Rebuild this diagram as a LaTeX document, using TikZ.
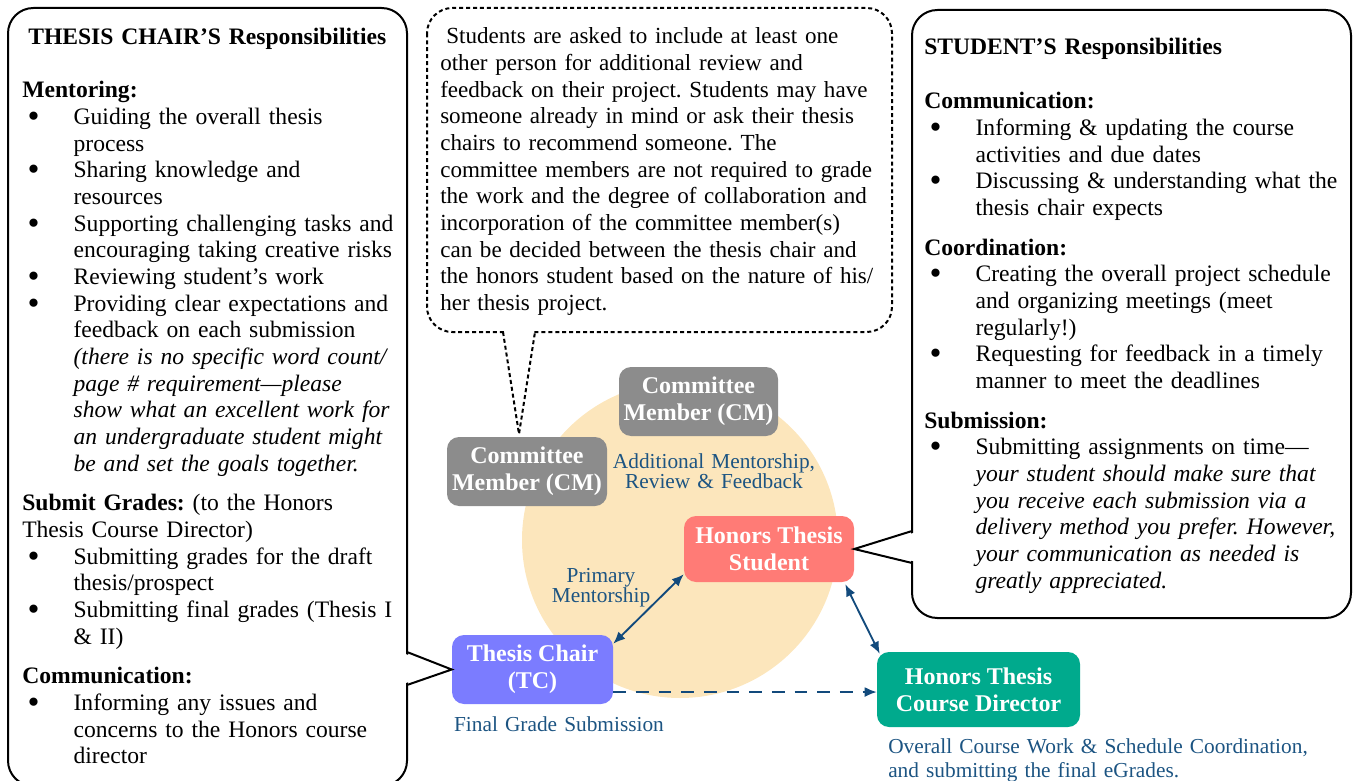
\documentclass[tikz,border=0pt]{standalone}
\usepackage{fontspec}
\setmainfont{Liberation Serif}
\usetikzlibrary{arrows.meta}
\frenchspacing
\definecolor{tccol}{RGB}{123,124,255}
\definecolor{stcol}{RGB}{255,123,118}
\definecolor{cdcol}{RGB}{0,170,141}
\definecolor{cmcol}{RGB}{140,140,140}
\definecolor{circcol}{RGB}{252,230,188}
\definecolor{bluetxt}{RGB}{28,84,130}
\definecolor{arrcol}{RGB}{18,74,124}
\newcommand{\bitem}{\makebox[38.5pt][l]{\hspace*{4pt}\raisebox{-2.2pt}{\scalebox{1.45}{•}}}}
\newcommand{\cont}{\hspace*{38.5pt}}
\begin{document}
\begin{tikzpicture}[x=0.75pt,y=-0.75pt,
  role/.style={rounded corners=9pt, fill=#1, text=white, font=\fontsize{18pt}{20.25pt}\selectfont\bfseries, align=center, inner sep=0pt},
  bluelbl/.style={text=bluetxt, font=\fontsize{16pt}{15pt}\selectfont, inner sep=0pt, text width=220pt, align=center, anchor=base},
  bluelft/.style={text=bluetxt, font=\fontsize{16pt}{18pt}\selectfont, inner sep=0pt, text width=400pt, align=left, anchor=base west},
  bodytext/.style={anchor=base west, inner sep=0pt, text width=420pt, align=left, font=\fontsize{17.7pt}{20pt}\selectfont},
  notetext/.style={anchor=base west, inner sep=0pt, text width=420pt, align=left, font=\fontsize{17.3pt}{20pt}\selectfont},
  callout/.style={draw=black, line width=1.5pt, fill=white, rounded corners=19pt},
  ptr/.style={draw=black, line width=1.5pt, line join=miter},
  link/.style={draw=arrcol, line width=1.4pt, {Latex[length=9pt,width=7.5pt]}-{Latex[length=9pt,width=7.5pt]}},
  dlink/.style={draw=arrcol, line width=1.4pt, dash pattern=on 9.5pt off 7.5pt, -{Latex[length=9pt,width=7.5pt]}},
  dotline/.style={dash pattern=on 3pt off 2.2pt}
]
\useasboundingbox (0,0) rectangle (1353,781);

% background circle
\fill[circcol] (680,540) circle[radius=118.5pt];

% callout boxes
\draw[callout] (8,8) rectangle (407,786);
\draw[callout] (912,10) rectangle (1351,618);
\draw[callout, dotline] (427,8) rectangle (892,332);

% role nodes
\node[role=tccol, minimum width=120.75pt, minimum height=51.75pt] (tc) at (532.5,669.5) {Thesis Chair\\(TC)};
\node[role=stcol, minimum width=127.5pt, minimum height=49.5pt] (st) at (769,549) {Honors Thesis\\Student};
\node[role=cdcol, minimum width=152.25pt, minimum height=56.25pt] (cd) at (978.5,689.5) {Honors Thesis\\Course Director};
\node[role=cmcol, minimum width=119.25pt, minimum height=51.75pt] (cma) at (698.5,401.5) {Committee\\Member (CM)};
\node[role=cmcol, minimum width=120pt, minimum height=51.75pt] (cmb) at (527,471.5) {Committee\\Member (CM)};

% callout pointers
\fill[white] (404,653.5) -- (tc.west) -- (404,683.5) -- cycle;
\draw[ptr] (407,652) -- (tc.west) -- (407,685);
\fill[white] (915,532.5) -- (st.east) -- (915,561.5) -- cycle;
\draw[ptr] (912,531) -- (st.east) -- (912,563);
\coordinate (dtip) at (519,434);
\fill[white] (504.5,329) -- (dtip) -- (533.5,329) -- cycle;
\draw[ptr, dotline] (503,332) -- (dtip) -- (535,332);

% texts of callouts
\node[bodytext] (ltext) at (22,45) {\hspace*{4.5pt}\textbf{THESIS CHAIR’S Responsibilities}\\[19.75pt]
\textbf{Mentoring:}\\
\bitem Guiding the overall thesis\\
\cont process\\
\bitem Sharing knowledge and\\
\cont resources\\
\bitem Supporting challenging tasks and\\
\cont encouraging taking creative risks\\
\bitem Reviewing student’s work\\
\bitem Providing clear expectations and\\
\cont feedback on each submission\\
\cont \textit{(there is no specific word count/}\\
\cont \textit{page \# requirement—please}\\
\cont \textit{show what an excellent work for}\\
\cont \textit{an undergraduate student might}\\
\cont \textit{be and set the goals together.}\\[9.75pt]
\textbf{Submit Grades:} (to the Honors\\
Thesis Course Director)\\
\bitem Submitting grades for the draft\\
\cont thesis/prospect\\
\bitem Submitting final grades (Thesis I\\
\cont \& II)\\[9.75pt]
\textbf{Communication:}\\
\bitem Informing any issues and\\
\cont concerns to the Honors course\\
\cont director};

\node[bodytext] (rtext) at (924,55) {\textbf{STUDENT’S Responsibilities}\\[20.5pt]
\textbf{Communication:}\\
\bitem Informing \& updating the course\\
\cont activities and due dates\\
\bitem Discussing \& understanding what the\\
\cont thesis chair expects\\[9.75pt]
\textbf{Coordination:}\\
\bitem Creating the overall project schedule\\
\cont and organizing meetings (meet\\
\cont regularly!)\\
\bitem Requesting for feedback in a timely\\
\cont manner to meet the deadlines\\[9.75pt]
\textbf{Submission:}\\
\bitem Submitting assignments on time—\\
\cont \textit{your student should make sure that}\\
\cont \textit{you receive each submission via a}\\
\cont \textit{delivery method you prefer. However,}\\
\cont \textit{your communication as needed is}\\
\cont \textit{greatly appreciated.}};

\node[notetext] (dtext) at (440,44) {\hspace*{4.5pt}Students are asked to include at least one\\
other person for additional review and\\
feedback on their project. Students may have\\
someone already in mind or ask their thesis\\
chairs to recommend someone. The\\
committee members are not required to grade\\
the work and the degree of collaboration and\\
incorporation of the committee member(s)\\
can be decided between the thesis chair and\\
the honors student based on the nature of his/\\
her thesis project.};

% connectors
\draw[link] ([yshift=-6.75pt]tc.north east) -- ([yshift=6pt]st.south west);
\draw[link] ([xshift=-6.75pt,yshift=-1.5pt]st.south east) -- ([xshift=2.25pt,yshift=-1.5pt]cd.north west);
\coordinate (dstart) at ([yshift=-16.9pt]tc.east);
\draw[dlink] (dstart) -- (dstart -| cd.west);

% blue labels
\node[bluelbl] (lbladd) at (714,468) {Additional Mentorship,\\Review \& Feedback};
\node[bluelbl] (lblpri) at (601,582) {Primary\\Mentorship};
\node[bluelbl] (lblfin) at (559,731) {Final Grade Submission};
\node[bluelft] (lblcd) at (888,753) {Overall Course Work \& Schedule Coordination,\\and submitting the final eGrades.};
\end{tikzpicture}
\end{document}
